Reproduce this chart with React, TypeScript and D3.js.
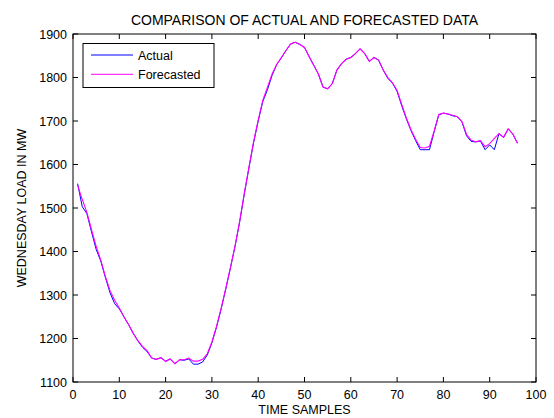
import React, { useEffect, useRef } from 'react';
import * as d3 from 'd3';

// time samples 1..96 (15 min steps)
const samples = d3.range(1, 97);

const actual = [
  1556, 1503, 1487, 1445, 1405, 1378, 1340, 1305, 1280, 1268,
  1250, 1232, 1212, 1195, 1180, 1170, 1155, 1152, 1156, 1148,
  1153, 1142, 1151, 1150, 1153, 1141, 1141, 1146, 1162, 1190,
  1226, 1268, 1314, 1362, 1412, 1468, 1532, 1592, 1650, 1700,
  1745, 1772, 1805, 1830, 1845, 1862, 1877, 1881, 1876, 1869,
  1848, 1828, 1808, 1778, 1774, 1786, 1817, 1832, 1842, 1846,
  1855, 1866, 1855, 1837, 1846, 1840, 1817, 1798, 1787, 1768,
  1735, 1705, 1678, 1655, 1634, 1634, 1634, 1675, 1714, 1718,
  1716, 1712, 1710, 1698, 1666, 1653, 1652, 1654, 1634, 1645,
  1634, 1671, 1662, 1682, 1670, 1649
];

const forecast = [
  1552, 1520, 1490, 1450, 1412, 1380, 1342, 1310, 1288, 1270,
  1250, 1232, 1212, 1195, 1182, 1172, 1155, 1152, 1156, 1147,
  1153, 1142, 1151, 1151, 1155, 1148, 1148, 1152, 1165, 1192,
  1228, 1270, 1315, 1363, 1413, 1470, 1534, 1594, 1652, 1702,
  1748, 1778, 1808, 1830, 1846, 1862, 1877, 1881, 1876, 1869,
  1848, 1828, 1808, 1778, 1774, 1786, 1817, 1832, 1842, 1846,
  1855, 1866, 1855, 1837, 1846, 1840, 1817, 1800, 1788, 1770,
  1738, 1707, 1680, 1658, 1639, 1638, 1642, 1677, 1715, 1718,
  1716, 1713, 1710, 1699, 1669, 1656, 1652, 1655, 1641, 1648,
  1660, 1671, 1663, 1682, 1670, 1649
];

const xTicks = [0, 10, 20, 30, 40, 50, 60, 70, 80, 90, 100];
const yTicks = [1100, 1200, 1300, 1400, 1500, 1600, 1700, 1800, 1900];

const W = 554, H = 418;
const left = 73, right = 536, top = 34, bottom = 382;
const font = 'Liberation Sans, Arial, Helvetica, sans-serif';

const App = () => {
  const ref = useRef<SVGSVGElement>(null);

  useEffect(() => {
    const svg = d3.select(ref.current);
    svg.selectAll('*').remove();

    const x = d3.scaleLinear().domain([0, 100]).range([left, right]);
    const y = d3.scaleLinear().domain([1100, 1900]).range([bottom, top]);

    // plot box
    svg.append('rect')
      .attr('x', left).attr('y', top)
      .attr('width', right - left).attr('height', bottom - top)
      .attr('fill', 'white').attr('stroke', 'black').attr('stroke-width', 1);

    // inward ticks on all four sides
    const tl = 5;
    const g = svg.append('g').attr('stroke', 'black').attr('stroke-width', 1);
    xTicks.forEach(t => {
      g.append('line').attr('x1', x(t)).attr('x2', x(t)).attr('y1', bottom).attr('y2', bottom - tl);
      g.append('line').attr('x1', x(t)).attr('x2', x(t)).attr('y1', top).attr('y2', top + tl);
    });
    yTicks.forEach(t => {
      g.append('line').attr('x1', left).attr('x2', left + tl).attr('y1', y(t)).attr('y2', y(t));
      g.append('line').attr('x1', right).attr('x2', right - tl).attr('y1', y(t)).attr('y2', y(t));
    });

    svg.selectAll('.xt').data(xTicks).enter().append('text')
      .attr('x', d => x(d)).attr('y', bottom + 17)
      .attr('text-anchor', 'middle')
      .style('font', `12.5px ${font}`)
      .text(d => d);
    svg.selectAll('.yt').data(yTicks).enter().append('text')
      .attr('x', left - 6).attr('y', d => y(d) + 4.5)
      .attr('text-anchor', 'end')
      .style('font', `12.5px ${font}`)
      .text(d => d);

    const line = d3.line<number>()
      .x((d, i) => x(samples[i]))
      .y(d => y(d));

    svg.append('path').datum(actual)
      .attr('d', line).attr('fill', 'none')
      .attr('stroke', '#0000ff').attr('stroke-width', 1);
    svg.append('path').datum(forecast)
      .attr('d', line).attr('fill', 'none')
      .attr('stroke', '#ff00ff').attr('stroke-width', 1.1);

    // legend
    const lg = svg.append('g');
    lg.append('rect').attr('x', 83).attr('y', 43.5).attr('width', 131).attr('height', 44)
      .attr('fill', 'white').attr('stroke', 'black').attr('stroke-width', 1);
    [['Actual', '#0000ff'], ['Forecasted', '#ff00ff']].forEach(([name, c], i) => {
      const ly = 55 + i * 19.3;
      lg.append('line').attr('x1', 91).attr('x2', 133).attr('y1', ly).attr('y2', ly)
        .attr('stroke', c).attr('stroke-width', 1);
      lg.append('text').attr('x', 138).attr('y', ly + 4.5)
        .style('font', `12.5px ${font}`).text(name);
    });

    svg.append('text')
      .text('COMPARISON OF ACTUAL AND FORECASTED DATA')
      .attr('x', (left + right) / 2).attr('y', 24.5)
      .attr('text-anchor', 'middle')
      .style('font', `14px ${font}`);

    svg.append('text')
      .text('TIME SAMPLES')
      .attr('x', (left + right) / 2).attr('y', 414)
      .attr('text-anchor', 'middle')
      .style('font', `12.5px ${font}`);

    svg.append('text')
      .text('WEDNESDAY LOAD IN MW')
      .attr('transform', `translate(26,${(top + bottom) / 2}) rotate(-90)`)
      .attr('text-anchor', 'middle')
      .style('font', `12.5px ${font}`);
  }, []);

  return (
    <svg ref={ref} width={W} height={H}
      style={{ position: 'absolute', left: 0, top: 0, background: 'white' }} />
  );
};

export default App;
